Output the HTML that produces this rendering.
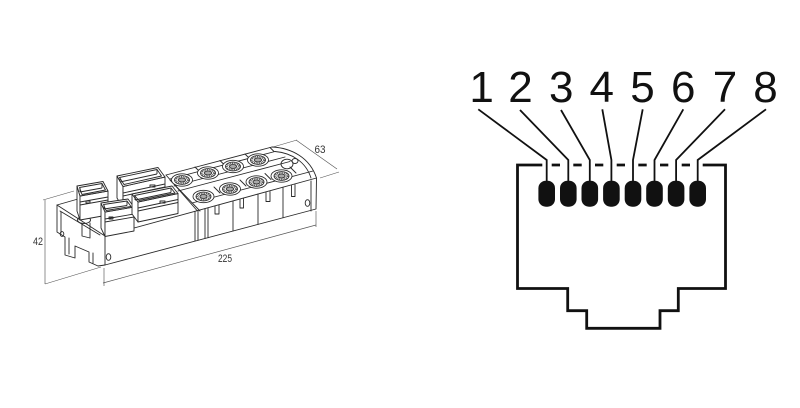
<!DOCTYPE html>
<html><head><meta charset="utf-8"><style>
html,body{margin:0;padding:0;background:#fff;}
svg{display:block}
</style></head><body>
<svg width="800" height="408" viewBox="0 0 800 408" xmlns="http://www.w3.org/2000/svg">
<rect width="800" height="408" fill="#fff"/>

<!-- ============ LEFT: device drawing ============ -->
<!-- dimension lines -->
<g fill="none" stroke="#555" stroke-width="0.65">
  <path d="M45,200 V284"/>
  <path d="M43,200 L74,191"/>
  <path d="M45,284 L101,267"/>
  <path d="M103,283 L316,225"/>
  <path d="M104,268 V286"/>
  <path d="M316,211 V227"/>
  <path d="M296,140 L337,169"/>
  <path d="M273,147 L297,140"/>
  <path d="M320,178 L339,172"/>
</g>
<g font-family="'Liberation Sans Narrow','Liberation Sans',sans-serif" font-size="11" fill="#333" text-anchor="middle">
  <text x="38" y="245" textLength="10" lengthAdjust="spacingAndGlyphs">42</text>
  <text x="320" y="153" textLength="11" lengthAdjust="spacingAndGlyphs">63</text>
  <text x="225" y="262" textLength="14" lengthAdjust="spacingAndGlyphs">225</text>
</g>

<g fill="none" stroke="#2a2a2a" stroke-width="0.9" stroke-linejoin="round" stroke-linecap="round">
  <!-- front face -->
  <path d="M105,236 L316.5,178 L316,209 L105,265 Z" fill="#fff"/>
  <!-- left end -->
  <path d="M57,205 L105,236"/>
  <path d="M60,211 L100,235"/>
  <path d="M57,205 V232 L65,237 V255 L75,258 V246 L89,252 V262 L98,266 L105,265"/>
  <path d="M61,212 V233"/>
  <path d="M69,238 V254 M93,253 V263"/>
  <path d="M57,205 L78,199"/>
  <ellipse cx="84" cy="220" rx="6.5" ry="3.5"/>
  <path d="M82,223 V236 L90,238 M90,223 V238"/>
  <ellipse cx="108.5" cy="257" rx="2.3" ry="3.3"/>
  <ellipse cx="62" cy="234" rx="1.8" ry="2.4"/>

  <!-- module top -->
  <path d="M166,175 L272,147"/>
  <path d="M170,179 L275,151.5"/>
  <path d="M272,147 C292,148 310,158 316.5,178"/>
  <path d="M275,151.5 C292,153 306,162 311,178"/>
  <path d="M166,175 L197,210.5"/>
  <path d="M170,180 L200,211"/>
  <path d="M174,186 L285,157"/>
  <path d="M178,191 L290,161.5"/>
  <path d="M192,203 L313,171"/>
  <!-- column dividers on top -->
  <path d="M195,167 L199,171 M220,160.5 L224,164.5 M245,154 L249,158 M270,147.5 L274,151.5"/>
  <path d="M214,187 L220,193 M240,180 L246,186 M265,173.5 L271,179.5 M290,167 L296,173"/>
  <!-- ribs on front -->
  <path d="M195,211.3 V241.1 M198,210.5 V240.3"/>
  <path d="M205,208.6 V238.5 M208,207.8 V237.7"/>
  <path d="M233,200.9 V231"/>
  <path d="M258,194 V224.4"/>
  <path d="M283,187.2 V217.8"/>
  <path d="M311,181 V211"/>
  <!-- hanging tabs -->
  <path d="M215,206 V214 H219 V205"/>
  <path d="M240,199.5 V208 H243.5 V198.5"/>
  <path d="M266,192.5 V201.5 H270 V191.5"/>
  <path d="M291.5,185.5 V196.5 H295 V184.5"/>
  <ellipse cx="307.5" cy="203" rx="2.3" ry="3.3"/>
  <!-- LED / screw -->
  <ellipse cx="287" cy="164" rx="6" ry="4.8"/>
  <ellipse cx="295" cy="161" rx="3" ry="2.5"/>
</g>

<!-- M12 connectors -->
<g stroke="#2a2a2a" stroke-width="0.85" fill="#fff">
  <g transform="translate(182,180)"><ellipse rx="10.5" ry="6.2"/><ellipse rx="7.5" ry="4.4"/><ellipse rx="6" ry="3.5" fill="none" stroke="#555" stroke-width="2.2" stroke-dasharray="1 0.8"/><ellipse rx="3.6" ry="2" fill="#aaa"/></g>
  <g transform="translate(208,173)"><ellipse rx="10.5" ry="6.2"/><ellipse rx="7.5" ry="4.4"/><ellipse rx="6" ry="3.5" fill="none" stroke="#555" stroke-width="2.2" stroke-dasharray="1 0.8"/><ellipse rx="3.6" ry="2" fill="#aaa"/></g>
  <g transform="translate(233,166.5)"><ellipse rx="10.5" ry="6.2"/><ellipse rx="7.5" ry="4.4"/><ellipse rx="6" ry="3.5" fill="none" stroke="#555" stroke-width="2.2" stroke-dasharray="1 0.8"/><ellipse rx="3.6" ry="2" fill="#aaa"/></g>
  <g transform="translate(258,160)"><ellipse rx="10.5" ry="6.2"/><ellipse rx="7.5" ry="4.4"/><ellipse rx="6" ry="3.5" fill="none" stroke="#555" stroke-width="2.2" stroke-dasharray="1 0.8"/><ellipse rx="3.6" ry="2" fill="#aaa"/></g>
  <g transform="translate(203.5,196.5)"><ellipse rx="10.5" ry="6.2"/><ellipse rx="7.5" ry="4.4"/><ellipse rx="6" ry="3.5" fill="none" stroke="#555" stroke-width="2.2" stroke-dasharray="1 0.8"/><ellipse rx="3.6" ry="2" fill="#aaa"/></g>
  <g transform="translate(230,189)"><ellipse rx="10.5" ry="6.2"/><ellipse rx="7.5" ry="4.4"/><ellipse rx="6" ry="3.5" fill="none" stroke="#555" stroke-width="2.2" stroke-dasharray="1 0.8"/><ellipse rx="3.6" ry="2" fill="#aaa"/></g>
  <g transform="translate(256.5,182)"><ellipse rx="10.5" ry="6.2"/><ellipse rx="7.5" ry="4.4"/><ellipse rx="6" ry="3.5" fill="none" stroke="#555" stroke-width="2.2" stroke-dasharray="1 0.8"/><ellipse rx="3.6" ry="2" fill="#aaa"/></g>
  <g transform="translate(281.5,176)"><ellipse rx="10.5" ry="6.2"/><ellipse rx="7.5" ry="4.4"/><ellipse rx="6" ry="3.5" fill="none" stroke="#555" stroke-width="2.2" stroke-dasharray="1 0.8"/><ellipse rx="3.6" ry="2" fill="#aaa"/></g>
</g>

<!-- Rectangular connector boxes -->
<g stroke="#2a2a2a" stroke-width="0.9" fill="#fff" stroke-linejoin="round">
  <!-- box1 back small -->
  <polygon points="77,186 80,196 80,220 77,211"/>
  <polygon points="80,196 108,191 108,215 80,220"/>
  <polygon points="77,186 103,181.5 108,191 80,196"/>
  <polygon points="79.5,187.5 102,183.5 105.5,190 82,194.5" fill="none"/>
  <path d="M80,188 V192 M102,184 V188 M80,192 L102,188" fill="none"/>
  <path d="M80,202 L108,197 M80,205 L108,200" fill="none"/>
  <rect x="86" y="201" width="4" height="2" fill="none"/>
  <!-- box2 back large -->
  <polygon points="117,176 123,186.5 123,208 117,198"/>
  <polygon points="123,186.5 165,177 165,199 123,208"/>
  <polygon points="117,176 158,167.5 165,177 123,186.5"/>
  <polygon points="119.5,177.5 157,169.5 161.5,176 124,184.5" fill="none"/>
  <path d="M120,178 V182 M157,170 V174 M120,182 L157,174" fill="none"/>
  <path d="M123,193 L165,184 M123,196 L165,187" fill="none"/>
  <rect x="150" y="185" width="5" height="2" fill="none"/>
  <!-- box3 front small -->
  <polygon points="101,203 105,212 105,236.5 101,228"/>
  <polygon points="105,212 134,207 134,231 105,236.5"/>
  <polygon points="101,203 128,199 134,207 105,212"/>
  <polygon points="103.5,204.5 127,201 131,206.5 106,210.5" fill="none"/>
  <path d="M104,205 V209 M127,201.5 V205.5 M104,209 L127,205.5" fill="none"/>
  <path d="M105,219 L134,214 M105,222 L134,217" fill="none"/>
  <rect x="109" y="217" width="4" height="2" fill="none"/>
  <!-- box4 front large -->
  <polygon points="132,194 138,202 138,222 132,214"/>
  <polygon points="138,202 178,193.5 178,213.5 138,222"/>
  <polygon points="132,194 172,186 178,193.5 138,202"/>
  <polygon points="134.5,195.5 171,188 175,193 139,200.5" fill="none"/>
  <path d="M135,196 V200 M171,188.5 V192.5 M135,200 L171,192.5" fill="none"/>
  <path d="M138,208 L178,199.5 M138,211 L178,202.5" fill="none"/>
  <rect x="160" y="201" width="5" height="2" fill="none"/>
</g>

<!-- ============ RIGHT: RJ45 pinout ============ -->
<g fill="none" stroke="#111" stroke-width="2.8" stroke-linejoin="miter" stroke-linecap="butt">
  <polyline points="542.3,165 517.5,165 517.5,288.5 567.7,288.5 567.7,310.7 586.7,310.7 586.7,328.3 660,328.3 660,310.7 678.3,310.7 678.3,288.5 725.5,288.5 725.5,165 702.7,165"/>
  <path d="M551.7,165 H560 M573.3,165 H581.7 M595,165 H603.3 M616.7,165 H625 M638.3,165 H646.7 M660,165 H668.3 M681.7,165 H690"/>
</g>
<g fill="none" stroke="#111" stroke-width="1.8" stroke-linejoin="miter">
  <polyline points="478.3,109.3 546.7,160 546.7,183"/>
  <polyline points="520,110 568.3,160 568.3,183"/>
  <polyline points="561,110 589.8,160 589.8,183"/>
  <polyline points="602.3,109.3 611.4,160 611.4,183"/>
  <polyline points="642.7,109.3 633,160 633,183"/>
  <polyline points="683.3,109.3 654.5,160 654.5,183"/>
  <polyline points="725,109.3 676.1,160 676.1,183"/>
  <polyline points="766,109.3 697.7,160 697.7,183"/>
</g>
<g fill="#111">
  <rect x="538.4" y="180.7" width="16.6" height="26" rx="7.5"/>
  <rect x="560" y="180.7" width="16.6" height="26" rx="7.5"/>
  <rect x="581.5" y="180.7" width="16.6" height="26" rx="7.5"/>
  <rect x="603.1" y="180.7" width="16.6" height="26" rx="7.5"/>
  <rect x="624.7" y="180.7" width="16.6" height="26" rx="7.5"/>
  <rect x="646.2" y="180.7" width="16.6" height="26" rx="7.5"/>
  <rect x="667.8" y="180.7" width="16.6" height="26" rx="7.5"/>
  <rect x="689.4" y="180.7" width="16.6" height="26" rx="7.5"/>
</g>
<g font-family="'Liberation Sans',Arial,sans-serif" font-size="44" fill="#111" text-anchor="middle">
  <text x="481.6" y="102">1</text>
  <text x="520.5" y="102">2</text>
  <text x="561.2" y="102">3</text>
  <text x="601.8" y="102">4</text>
  <text x="642.5" y="102">5</text>
  <text x="683.3" y="102">6</text>
  <text x="725" y="102">7</text>
  <text x="765.5" y="102">8</text>
</g>
</svg>
</body></html>
